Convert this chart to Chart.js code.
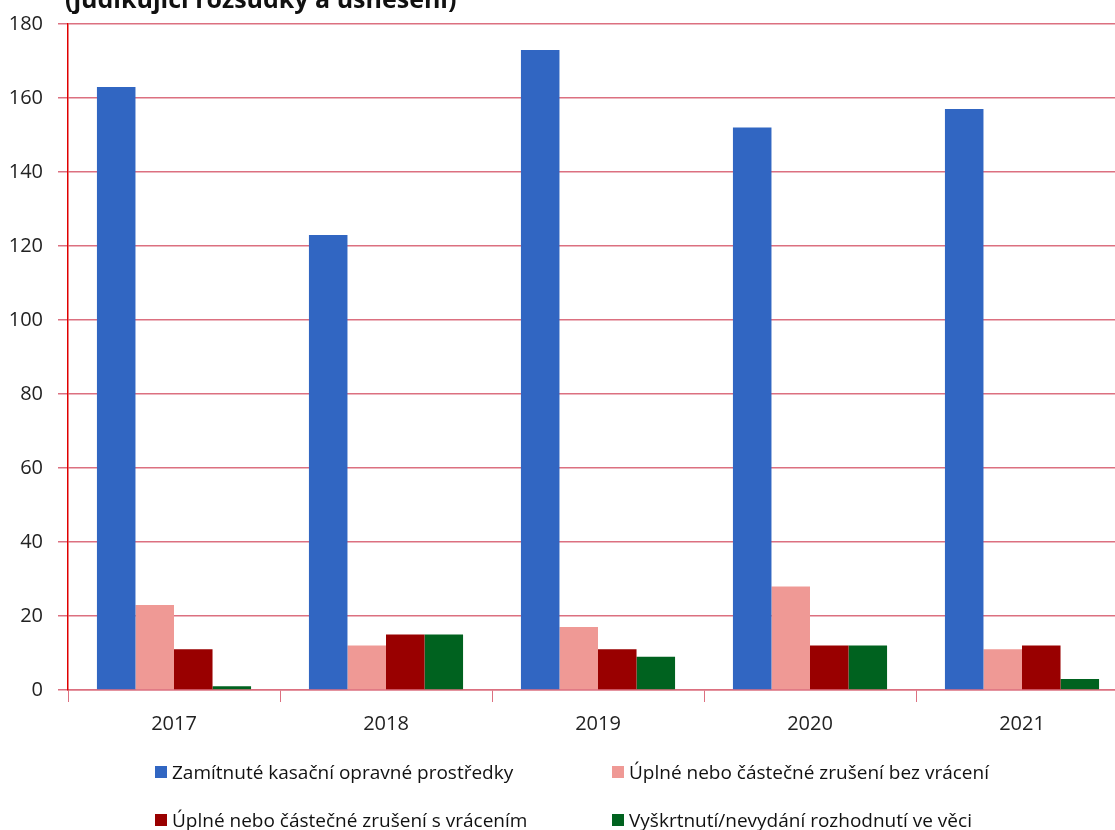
<!DOCTYPE html>
<html><head><meta charset="utf-8">
<script src="https://cdn.jsdelivr.net/npm/chart.js@4/dist/chart.umd.min.js"></script>
<style>
html,body{margin:0;padding:0;background:#fff;}
#wrap{position:relative;width:1115px;height:830px;overflow:hidden;}
#legend{position:absolute;left:0;top:0;width:1115px;height:830px;pointer-events:none;font-family:"Open Sans",sans-serif;font-size:19px;color:#111;}
.li{position:absolute;display:flex;align-items:center;white-space:nowrap;}
.sw{width:12px;height:12px;margin-right:5px;display:inline-block;}
canvas{display:block;}
</style></head>
<body><div id="wrap"><canvas id="c" width="1130" height="830"></canvas><div id="legend"></div></div>
<script>
const titleText = "(judikující rozsudky a usnesení)";
const categories = ["2017","2018","2019","2020","2021"];
const seriesNames = ["Zamítnuté kasační opravné prostředky","Úplné nebo částečné zrušení bez vrácení","Úplné nebo částečné zrušení s vrácením","Vyškrtnutí/nevydání rozhodnutí ve věci"];
const zamitnute = [163,123,173,152,157];
const bezVraceni = [23,12,17,28,11];
const sVracenim = [11,15,11,12,12];
const vyskrtnuti = [1,15,9,12,3];
const colors = ["#3166c2","#ef9995","#990000","#00621f"];
const yTicks = [0,20,40,60,80,100,120,140,160,180];

const values=[zamitnute,bezVraceni,sVracenim,vyskrtnuti];
const gridColor="#dc7080";
const titlePlugin={id:'cuttitle',afterDraw(ch){const c=ch.ctx;c.save();c.font='bold 25px "Open Sans"';c.fillStyle='#111';c.textBaseline='alphabetic';c.fillText(titleText,65,8);c.restore();}};
new Chart(document.getElementById('c'),{
 type:'bar',
 data:{labels:categories,datasets:values.map((v,i)=>({label:seriesNames[i],data:v,backgroundColor:colors[i],borderWidth:0}))},
 options:{responsive:false,animation:false,
  layout:{padding:{top:24,right:2,left:0,bottom:0}},
  datasets:{bar:{categoryPercentage:0.727,barPercentage:1}},
  plugins:{legend:{display:false},tooltip:{enabled:false}},
  scales:{
   x:{grid:{display:true,drawOnChartArea:false,drawTicks:true,tickLength:12,color:gridColor,offset:true},
      border:{display:true,color:gridColor,width:1.5},
      ticks:{font:{family:'"Open Sans"',size:20},color:'#222',padding:10},
      afterFit(s){s.height=140;}},
   y:{min:0,max:180,afterBuildTicks(s){s.ticks=yTicks.map(v=>({value:v}));},
      grid:{color:gridColor,lineWidth:1.5,tickLength:10},
      border:{display:true,color:'#e00000',width:1.5},
      ticks:{font:{family:'"Open Sans"',size:20},color:'#222',padding:15},
      afterFit(s){s.width=68;s.paddingTop=0;s.paddingBottom=0;}}
  }},
 plugins:[titlePlugin]
});
const lg=document.getElementById('legend');
const pos=[[155,772],[612,772],[155,820],[612,820]];
seriesNames.forEach((n,i)=>{const d=document.createElement('div');d.className='li';d.style.left=pos[i][0]+'px';d.style.top=(pos[i][1]-14)+'px';d.style.height='28px';
 const s=document.createElement('span');s.className='sw';s.style.background=colors[i];d.appendChild(s);d.appendChild(document.createTextNode(n));lg.appendChild(d);});
</script></body></html>
